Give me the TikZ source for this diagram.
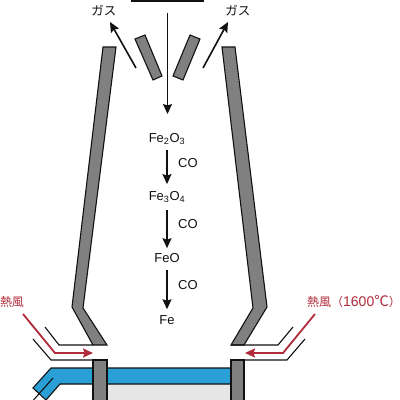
\documentclass[tikz,border=0pt]{standalone}
\usepackage{fontspec}
\setmainfont{Liberation Sans}
\newfontfamily\cjkfont{Noto Sans CJK JP}
\usetikzlibrary{calc, arrows.meta}
\definecolor{wallgray}{HTML}{808080}
\definecolor{blastblue}{HTML}{2A9FD6}
\definecolor{hearthgray}{HTML}{E6E6E6}
\definecolor{hotred}{HTML}{B02A3A}
\definecolor{linedark}{HTML}{111111}

\begin{document}
\begin{tikzpicture}[
    x=1pt, y=-1pt,
    wall/.style={draw=linedark, line width=1.1pt, fill=wallgray, line join=miter},
    duct/.style={draw=linedark, line width=1.1pt},
    flow/.style={->, linedark, line width=1.6pt},
    hotflow/.style={->, hotred, line width=1.8pt},
    chem/.style={font=\fontsize{13}{15}\selectfont, text=linedark, inner sep=0pt},
    gaslabel/.style={font=\cjkfont\fontsize{12.5}{14}\selectfont, text=linedark, inner sep=0pt},
    hotlabel/.style={font=\cjkfont\fontsize{12}{14}\selectfont, text=hotred, inner sep=0pt},
    >={Stealth[length=10pt, width=9pt, inset=1.5pt]}
]
\useasboundingbox (0,0) rectangle (400,400);

% Hearth
\fill[hearthgray] (107,384) rectangle (231,405);

% Blast pipe
\draw[duct, fill=blastblue] (33,388) -- (51,368) -- (231,368) -- (231,384) -- (60,384) -- (46,400) -- cycle;
\draw[duct] (53,378) -- (30,404);

% Furnace walls
\draw[wall] (103,47) -- (116,47) -- (83,308) -- (107,345) -- (93,345) -- (72,307) -- cycle;
\draw[wall] (222,47) -- (235,47) -- (267,307) -- (244,345) -- (231,345) -- (253,308) -- cycle;
\draw[wall] (93,360) -- (107,360) -- (107,405) -- (93,405) -- cycle;
\draw[wall] (231,360) -- (244,360) -- (244,405) -- (231,405) -- cycle;

% Top hopper and bell
\draw[duct] (132,-5) rectangle (203,1);
\draw[wall] (135,39) -- (145,35) -- (162,76) -- (153,80) -- cycle;
\draw[wall] (200,39) -- (190,35) -- (173,76) -- (183,80) -- cycle;

% Hot air ducts
\draw[duct] (45,327) -- (59,345) -- (93,345);
\draw[duct] (33,339) -- (51,360) -- (93,360);
\draw[duct] (293,327) -- (278,345) -- (231,345);
\draw[duct] (305,339) -- (287,360) -- (231,360);

% Hot air
\coordinate (HotLa) at (23,314);
\coordinate (HotLb) at (55,353);
\coordinate (HotLc) at (93,353);
\coordinate (HotRa) at (315,314);
\coordinate (HotRb) at (283,353);
\coordinate (HotRc) at (245,353);
\draw[hotflow] (HotLa) -- (HotLb) -- (HotLc);
\draw[hotflow] (HotRa) -- (HotRb) -- (HotRc);
\node[hotlabel] (hotL) at (12,302) {熱風};
\node[hotlabel] (hotR) at (354,302) {熱風（{\fontspec{Liberation Sans}\fontsize{14}{14}\selectfont 1600}{\fontsize{14.5}{14}\selectfont ℃}）};

% Gas
\coordinate (GasLa) at (136,68);
\coordinate (GasLb) at (110,22);
\coordinate (GasRa) at (203,68);
\coordinate (GasRb) at (228,22);
\draw[flow] (GasLa) -- (GasLb);
\draw[flow] (GasRa) -- (GasRb);
\node[gaslabel] (gasL) at (104,11) {ガス};
\node[gaslabel] (gasR) at (238,11) {ガス};

% Reduction steps
\node[chem] (hematite) at (167,139) {Fe\textsubscript{2}O\textsubscript{3}};
\node[chem] (magnetite) at (167,197) {Fe\textsubscript{3}O\textsubscript{4}};
\node[chem] (wustite) at (167,258) {FeO};
\node[chem] (iron) at (167,320) {Fe};
\node[chem] (coA) at (188,163) {CO};
\node[chem] (coB) at (188,224) {CO};
\node[chem] (coC) at (188,285) {CO};

\coordinate (ChargeTop) at (167.5,13);
\coordinate (ChargeEnd) at (167.5,114);
\draw[flow] (ChargeTop) -- (ChargeEnd);
\draw[flow, shorten <=5pt, shorten >=7pt] (hematite.south) -- (magnetite.north);
\draw[flow, shorten <=7pt, shorten >=5pt] (magnetite.south) -- (wustite.north);
\draw[flow, shorten <=7pt, shorten >=6pt] (wustite.south) -- (iron.north);

\end{tikzpicture}
\end{document}
